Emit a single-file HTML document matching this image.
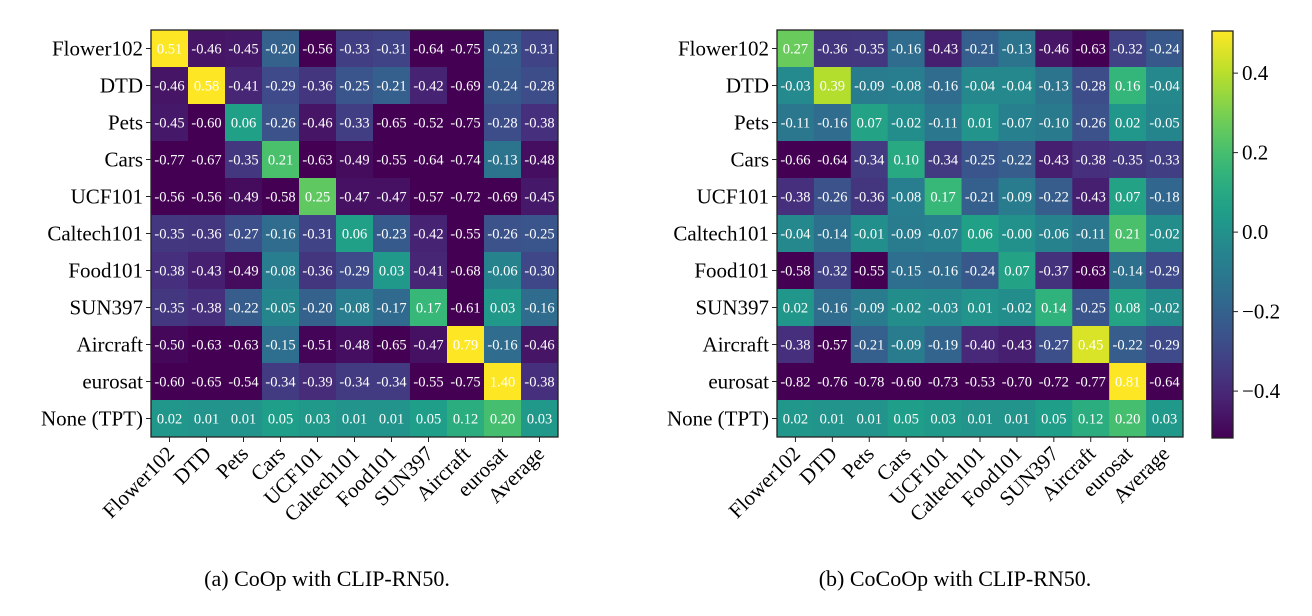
<!DOCTYPE html>
<html><head><meta charset="utf-8"><style>
body{margin:0;background:#fff}
svg, svg text{font-family:"Liberation Serif","Times New Roman",serif}
</style></head><body>
<svg id="chart" width="1312" height="611" xmlns="http://www.w3.org/2000/svg" font-family="Liberation Serif, serif">
<text x="327" y="586" font-size="22" font-family="Liberation Serif, serif" text-anchor="middle">(a) CoOp with CLIP-RN50.</text>
<text x="955" y="586" font-size="22" font-family="Liberation Serif, serif" text-anchor="middle">(b) CoCoOp with CLIP-RN50.</text>
</svg>
<script>
const rowLabels=["Flower102","DTD","Pets","Cars","UCF101","Caltech101","Food101","SUN397","Aircraft","eurosat","None (TPT)"];
const colLabels=["Flower102","DTD","Pets","Cars","UCF101","Caltech101","Food101","SUN397","Aircraft","eurosat","Average"];
const valuesA=[
[0.51,-0.46,-0.45,-0.20,-0.56,-0.33,-0.31,-0.64,-0.75,-0.23,-0.31],
[-0.46,0.58,-0.41,-0.29,-0.36,-0.25,-0.21,-0.42,-0.69,-0.24,-0.28],
[-0.45,-0.60,0.06,-0.26,-0.46,-0.33,-0.65,-0.52,-0.75,-0.28,-0.38],
[-0.77,-0.67,-0.35,0.21,-0.63,-0.49,-0.55,-0.64,-0.74,-0.13,-0.48],
[-0.56,-0.56,-0.49,-0.58,0.25,-0.47,-0.47,-0.57,-0.72,-0.69,-0.45],
[-0.35,-0.36,-0.27,-0.16,-0.31,0.06,-0.23,-0.42,-0.55,-0.26,-0.25],
[-0.38,-0.43,-0.49,-0.08,-0.36,-0.29,0.03,-0.41,-0.68,-0.06,-0.30],
[-0.35,-0.38,-0.22,-0.05,-0.20,-0.08,-0.17,0.17,-0.61,0.03,-0.16],
[-0.50,-0.63,-0.63,-0.15,-0.51,-0.48,-0.65,-0.47,0.79,-0.16,-0.46],
[-0.60,-0.65,-0.54,-0.34,-0.39,-0.34,-0.34,-0.55,-0.75,1.40,-0.38],
[0.02,0.01,0.01,0.05,0.03,0.01,0.01,0.05,0.12,0.20,0.03]];
const valuesB=[
[0.27,-0.36,-0.35,-0.16,-0.43,-0.21,-0.13,-0.46,-0.63,-0.32,-0.24],
[-0.03,0.39,-0.09,-0.08,-0.16,-0.04,-0.04,-0.13,-0.28,0.16,-0.04],
[-0.11,-0.16,0.07,-0.02,-0.11,0.01,-0.07,-0.10,-0.26,0.02,-0.05],
[-0.66,-0.64,-0.34,0.10,-0.34,-0.25,-0.22,-0.43,-0.38,-0.35,-0.33],
[-0.38,-0.26,-0.36,-0.08,0.17,-0.21,-0.09,-0.22,-0.43,0.07,-0.18],
[-0.04,-0.14,-0.01,-0.09,-0.07,0.06,-0.00,-0.06,-0.11,0.21,-0.02],
[-0.58,-0.32,-0.55,-0.15,-0.16,-0.24,0.07,-0.37,-0.63,-0.14,-0.29],
[0.02,-0.16,-0.09,-0.02,-0.03,0.01,-0.02,0.14,-0.25,0.08,-0.02],
[-0.38,-0.57,-0.21,-0.09,-0.19,-0.40,-0.43,-0.27,0.45,-0.22,-0.29],
[-0.82,-0.76,-0.78,-0.60,-0.73,-0.53,-0.70,-0.72,-0.77,0.81,-0.64],
[0.02,0.01,0.01,0.05,0.03,0.01,0.01,0.05,0.12,0.20,0.03]];
const cbTicks=[0.4,0.2,0.0,-0.2,-0.4];
const cbTickLabels=["0.4","0.2","0.0","\u22120.2","\u22120.4"];
const VMIN=-0.518,VMAX=0.506;
const FONT="Liberation Serif, serif";
const stops=[[68,1,84],[72,40,120],[62,74,137],[49,104,142],[38,130,142],[31,158,137],[53,183,121],[109,205,89],[180,222,44],[253,231,37]];
function viridis(t){t=Math.max(0,Math.min(1,t));const p=t*(stops.length-1),i=Math.min(Math.floor(p),stops.length-2),f=p-i;
const c=stops[i].map((a,k)=>Math.round(a+(stops[i+1][k]-a)*f));return `rgb(${c[0]},${c[1]},${c[2]})`;}
const NS="http://www.w3.org/2000/svg",svg=document.getElementById('chart');
function mk(t,a,p){const e=document.createElementNS(NS,t);for(const k in a)e.setAttribute(k,a[k]);if(t==='text')e.setAttribute('font-family',FONT);(p||svg).appendChild(e);return e;}
function fmt(v){return (v<0||Object.is(v,-0)?"-":"")+Math.abs(v).toFixed(2);}
function heat(x0,y0,W,H,vals,name){
 const g=mk('g',{});
 
 
 const cw=W/colLabels.length,ch=H/rowLabels.length;
 const xs=c=>x0+c*cw, ys=r=>y0+r*ch;
 vals.forEach((row,r)=>row.forEach((v,c)=>{
  const rc=mk('rect',{x:xs(c),y:ys(r),width:cw+0.5,height:ch+0.5,fill:viridis((v-VMIN)/(VMAX-VMIN))},g);
  
  
  const t=mk('text',{x:xs(c)+cw/2,y:ys(r)+ch/2+5,'font-size':14.5,'text-anchor':'middle',fill:'#fff'},g);
  
  
  t.textContent=fmt(v);
 }));
 const fr=mk('rect',{x:x0,y:y0,width:W,height:H,fill:'none',stroke:'#222','stroke-width':1.3},g);
 
 
 rowLabels.forEach((l,r)=>{const y=ys(r)+ch/2;
  mk('line',{x1:x0-5,x2:x0,y1:y,y2:y,stroke:'#222'},g);
  const t=mk('text',{x:x0-8,y:y+7,'font-size':21,'text-anchor':'end'},g);
  
  
  t.textContent=l;});
 colLabels.forEach((l,c)=>{const x=xs(c)+cw/2,y=y0+H;
  mk('line',{x1:x,x2:x,y1:y,y2:y+5,stroke:'#222'},g);
  const t=mk('text',{x:x+6,y:y+18,'font-size':21,'text-anchor':'end',transform:`rotate(-45 ${x+6} ${y+18})`},g);
  
  
  t.textContent=l;});
}
heat(151,30,407,407,valuesA,'heatmap-coop');
heat(777,30,406,407,valuesB,'heatmap-cocoop');
const cbX=1212,cbY=31,cbW=21,cbH=407;
const defs=mk('defs',{});const lg=mk('linearGradient',{id:'vg',x1:0,y1:1,x2:0,y2:0},defs);
for(let i=0;i<=20;i++)mk('stop',{offset:i/20,'stop-color':viridis(i/20)},lg);
const cb=mk('rect',{x:cbX,y:cbY,width:cbW,height:cbH,fill:'url(#vg)',stroke:'#222','stroke-width':1.3});


const cy=v=>cbY+(VMAX-v)/(VMAX-VMIN)*cbH;
cbTicks.forEach((v,i)=>{const y=cy(v);
 mk('line',{x1:cbX+cbW,x2:cbX+cbW+5,y1:y,y2:y,stroke:'#222'});
 const t=mk('text',{x:cbX+cbW+9,y:y+7,'font-size':21});
 
 
 t.textContent=cbTickLabels[i];});
</script>
</body></html>
